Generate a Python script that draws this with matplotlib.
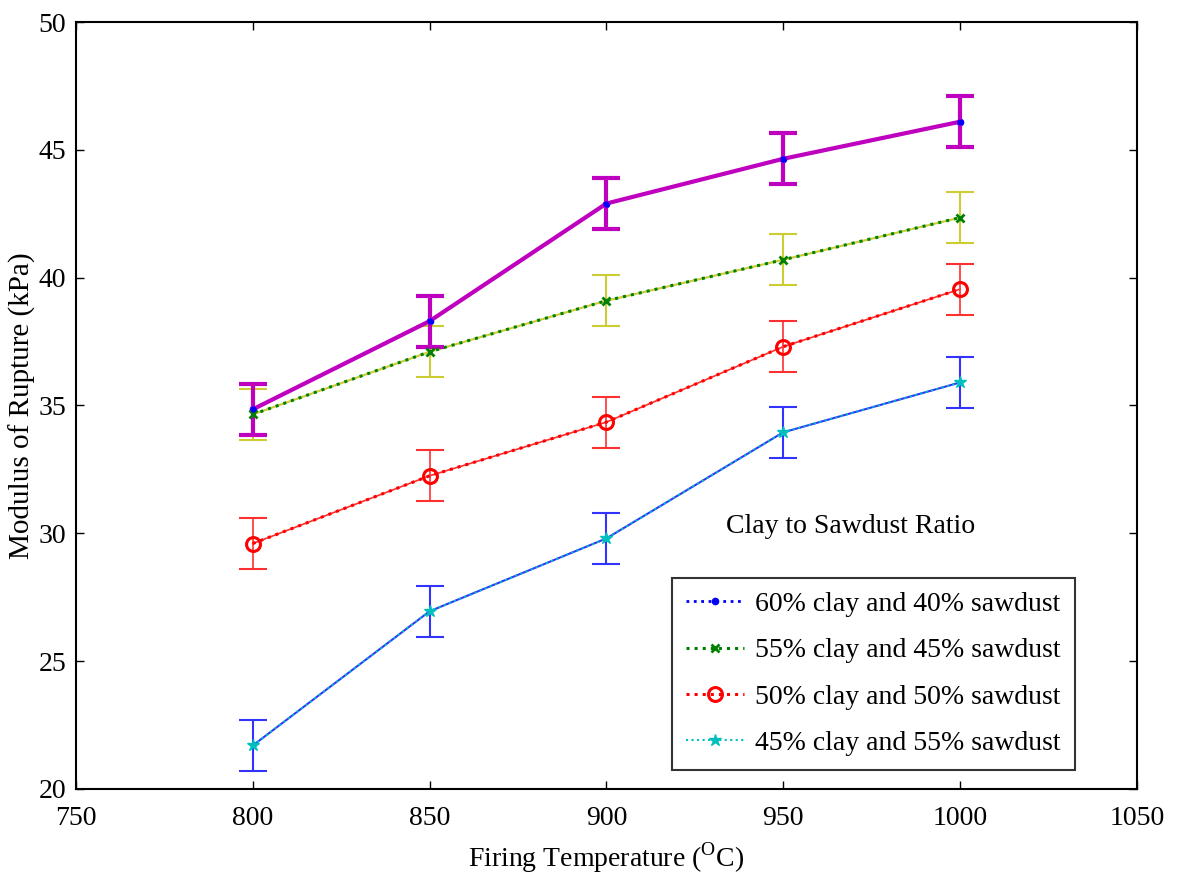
import matplotlib
matplotlib.use("Agg")
import matplotlib.pyplot as plt

plt.rcParams['font.family'] = ['Liberation Serif', 'DejaVu Serif']
plt.rcParams['mathtext.fontset'] = 'custom'
plt.rcParams['mathtext.rm'] = 'Liberation Serif'

temps = [800, 850, 900, 950, 1000]
s60 = [34.85, 38.3, 42.9, 44.65, 46.1]
s55 = [34.65, 37.1, 39.1, 40.7, 42.35]
s50 = [29.6, 32.25, 34.35, 37.3, 39.55]
s45 = [21.7, 26.95, 29.8, 33.95, 35.9]
err = [1.0, 1.0, 1.0, 1.0, 1.0]
labels = ['60% clay and 40% sawdust', '55% clay and 45% sawdust',
          '50% clay and 50% sawdust', '45% clay and 55% sawdust']
xticks = [750, 800, 850, 900, 950, 1000, 1050]
yticks = [20, 25, 30, 35, 40, 45, 50]

fs = 20

fig = plt.figure(figsize=(11.78, 8.82), dpi=100)
ax = fig.add_axes([0.0645, 0.1055, 0.9005, 0.8695])

# 60% series: blue dotted with dots, magenta error bar line on top
h1, = ax.plot(temps, s60, ':', color='#0000ff', marker='.', markersize=9, lw=2, zorder=2)
ax.errorbar(temps, s60, yerr=err, color='#bf00bf', lw=3, capsize=10, capthick=3, zorder=3)
ax.plot(temps, s60, '.', color='#0000ff', markersize=7, zorder=4)

# 55% series: yellow error bar under green dotted
ax.errorbar(temps, s55, yerr=err, color='#cccc33', lw=1.5, capsize=10, capthick=1.5, zorder=2)
h2, = ax.plot(temps, s55, ':', color='#008000', marker='x', markersize=6, mew=2, lw=2.2, zorder=3)

# 50% series: red
ax.errorbar(temps, s50, yerr=err, color='#ff3030', lw=1.2, capsize=10, capthick=1.5, zorder=2)
h3, = ax.plot(temps, s50, ':', color='#ff0000', marker='o', markersize=10, mfc='none', mew=2.2, lw=2.2, zorder=3)

# 45% series: blue error bar line, cyan dotted with stars
ax.errorbar(temps, s45, yerr=err, color='#3333ff', lw=1.5, capsize=10, capthick=1.5, zorder=2)
h4, = ax.plot(temps, s45, ':', color='#00bfbf', marker='*', markersize=9, lw=1.5, zorder=3)

ax.set_xlim(750, 1050)
ax.set_ylim(20, 50)
ax.set_xticks(xticks)
ax.set_yticks(yticks)
ax.tick_params(direction='in', top=True, right=True, length=6, width=1, labelsize=fs)
ax.tick_params(axis='x', pad=12)
ax.tick_params(axis='y', pad=7)
for sp in ax.spines.values():
    sp.set_linewidth(1.5)

ax.set_xlabel(r'Firing Temperature ($^{\mathrm{O}}$C)', fontsize=fs, labelpad=7)
ax.set_ylabel('Modulus of Rupture (kPa)', fontsize=fs + 1, labelpad=2)

ax.text(969, 30.25, 'Clay to Sawdust Ratio', fontsize=fs, ha='center', va='center')

leg = ax.legend([h1, h2, h3, h4], labels, loc='lower right', bbox_to_anchor=(0.9416, 0.0248),
                fontsize=fs, frameon=True, fancybox=False, edgecolor='black',
                handlelength=2.1, borderpad=0.5, labelspacing=0.75, handletextpad=0.4,
                borderaxespad=0)
leg.get_frame().set_linewidth(1.5)

fig.savefig('out.png', dpi=100)
